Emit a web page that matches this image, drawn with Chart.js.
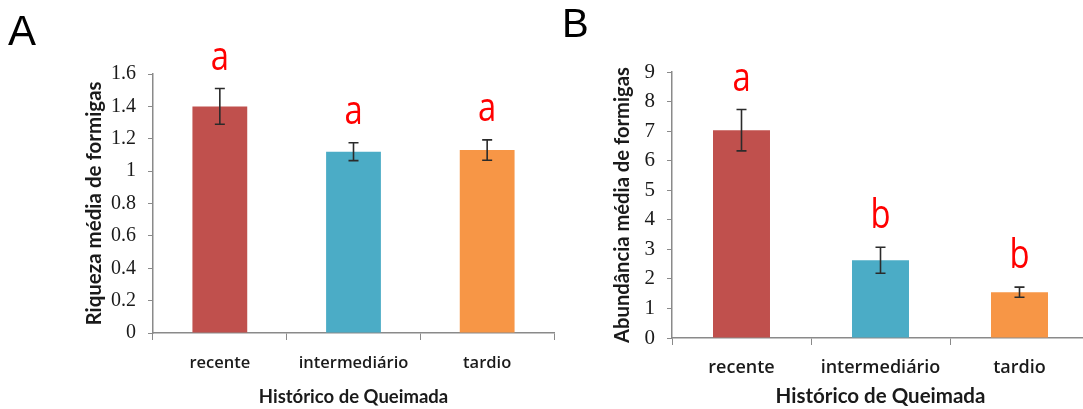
<!DOCTYPE html>
<html>
<head>
<meta charset="utf-8">
<script src="https://cdn.jsdelivr.net/npm/chart.js@4.4.1/dist/chart.umd.min.js"></script>
<style>
  html, body { margin: 0; padding: 0; background: #fff; overflow: hidden; }
  #wrap { position: relative; width: 1083px; height: 409px; overflow: hidden; }
  .box { position: absolute; top: 0; height: 409px; }
  .panel { position: absolute; font-family: "Liberation Sans", Arial, sans-serif; color: #000; line-height: 1; }
</style>
</head>
<body>
<div id="wrap">
  <div class="box" style="left:0;width:570px"><canvas id="chartA"></canvas></div>
  <div class="box" style="left:543px;width:560px"><canvas id="chartB"></canvas></div>
  <div class="panel" style="left:8px;top:10px;font-size:42px">A</div>
  <div class="panel" style="left:562px;top:3px;font-size:40px">B</div>
</div>
<script>
// categories and values
const categories = ['recente', 'intermediário', 'tardio'];
const barColors = ['#c0504d', '#4bacc6', '#f79646'];

const riquezaMean = [1.40, 1.12, 1.13];
const riquezaErr = [0.11, 0.055, 0.063];
const riquezaLetters = ['a', 'a', 'a'];

const abundanciaMean = [7.03, 2.63, 1.55];
const abundanciaErr = [0.70, 0.44, 0.17];
const abundanciaLetters = ['a', 'b', 'b'];

const AXIS_GREY = '#8a8a8a';
const TEXT = '#1a1a1a';

// error bars + significance letters drawn from scale positions
const errorBarPlugin = {
  id: 'errorBars',
  afterDatasetsDraw(chart, args, opts) {
    const { ctx, scales: { y } } = chart;
    const meta = chart.getDatasetMeta(0);
    ctx.save();
    meta.data.forEach((bar, i) => {
      const v = opts.values[i];
      const e = opts.errors[i];
      const yTop = y.getPixelForValue(v + e);
      const yBot = y.getPixelForValue(v - e);
      ctx.strokeStyle = '#2b2b2b';
      ctx.lineWidth = 1.6;
      ctx.beginPath();
      ctx.moveTo(bar.x, yTop); ctx.lineTo(bar.x, yBot);
      ctx.moveTo(bar.x - 5, yTop); ctx.lineTo(bar.x + 5, yTop);
      ctx.moveTo(bar.x - 5, yBot); ctx.lineTo(bar.x + 5, yBot);
      ctx.stroke();

      // letter above the error bar
      ctx.save();
      ctx.translate(bar.x, yTop - 19);
      ctx.scale(0.82, 1);
      ctx.fillStyle = '#ff0000';
      ctx.font = opts.letterFont;
      ctx.textAlign = 'center';
      ctx.textBaseline = 'alphabetic';
      ctx.fillText(opts.letters[i], 0, 0);
      ctx.restore();
    });
    ctx.restore();
  },
};

function makeChart(canvasId, cfg) {
  return new Chart(document.getElementById(canvasId), {
    type: 'bar',
    data: {
      labels: categories,
      datasets: [{
        data: cfg.values,
        backgroundColor: barColors,
        borderWidth: 0,
        categoryPercentage: 1,
        barPercentage: 0.41,
      }],
    },
    options: {
      responsive: true,
      maintainAspectRatio: false,
      animation: false,
      layout: { padding: { left: 0, top: cfg.top, right: cfg.right, bottom: 0 } },
      plugins: {
        legend: { display: false },
        tooltip: { enabled: false },
        errorBars: {
          values: cfg.values,
          errors: cfg.errors,
          letters: cfg.letters,
          letterFont: cfg.letterFont,
        },
      },
      scales: {
        x: {
          afterFit: s => { s.height = cfg.xHeight; },
          grid: { display: true, drawOnChartArea: false, drawTicks: true, tickLength: 7, color: AXIS_GREY, offset: true },
          border: { display: true, color: AXIS_GREY, width: 1.5 },
          ticks: {
            color: TEXT,
            padding: cfg.xTickPad,
            font: { family: 'Open Sans', size: cfg.xTickSize, weight: '600' },
          },
          title: {
            display: true,
            text: 'Histórico de Queimada',
            color: TEXT,
            font: { family: 'Lato', size: cfg.xTitleSize, weight: 'bold' },
            padding: { top: 0, bottom: cfg.xTitlePad },
          },
        },
        y: {
          min: 0,
          max: cfg.max,
          afterFit: s => { s.width = cfg.yWidth; },
          grid: { display: true, drawOnChartArea: false, drawTicks: true, tickLength: 5, color: AXIS_GREY },
          border: { display: true, color: AXIS_GREY, width: 1.5 },
          ticks: {
            stepSize: cfg.step,
            color: TEXT,
            padding: cfg.yTickPad,
            font: { family: 'Liberation Serif', size: cfg.yTickSize },
            callback: v => String(Math.round(v * 10) / 10),
          },
          title: {
            display: true,
            text: cfg.yTitle,
            color: TEXT,
            font: { family: 'Lato', size: cfg.yTitleSize, weight: 'bold' },
            padding: { top: cfg.yTitlePad, bottom: 0 },
          },
        },
      },
    },
    plugins: [errorBarPlugin],
  });
}

makeChart('chartA', {
  values: riquezaMean, errors: riquezaErr, letters: riquezaLetters,
  max: 1.6, step: 0.2, yTitle: 'Riqueza média de formigas',
  top: 74, right: 16, yWidth: 153, xHeight: 76,
  xTickPad: 13, xTickSize: 16.5, yTickPad: 12, yTickSize: 20,
  xTitleSize: 18.5, yTitleSize: 20.5, xTitlePad: 1, yTitlePad: 82,
  letterFont: '40px "Open Sans"',
});

makeChart('chartB', {
  values: abundanciaMean, errors: abundanciaErr, letters: abundanciaLetters,
  max: 9, step: 1, yTitle: 'Abundância média de formigas',
  top: 72, right: 14, yWidth: 129, xHeight: 71,
  xTickPad: 12, xTickSize: 18, yTickPad: 12, yTickSize: 21,
  xTitleSize: 20.5, yTitleSize: 20.2, xTitlePad: 0, yTitlePad: 67,
  letterFont: '40px "Open Sans"',
});
</script>
</body>
</html>
